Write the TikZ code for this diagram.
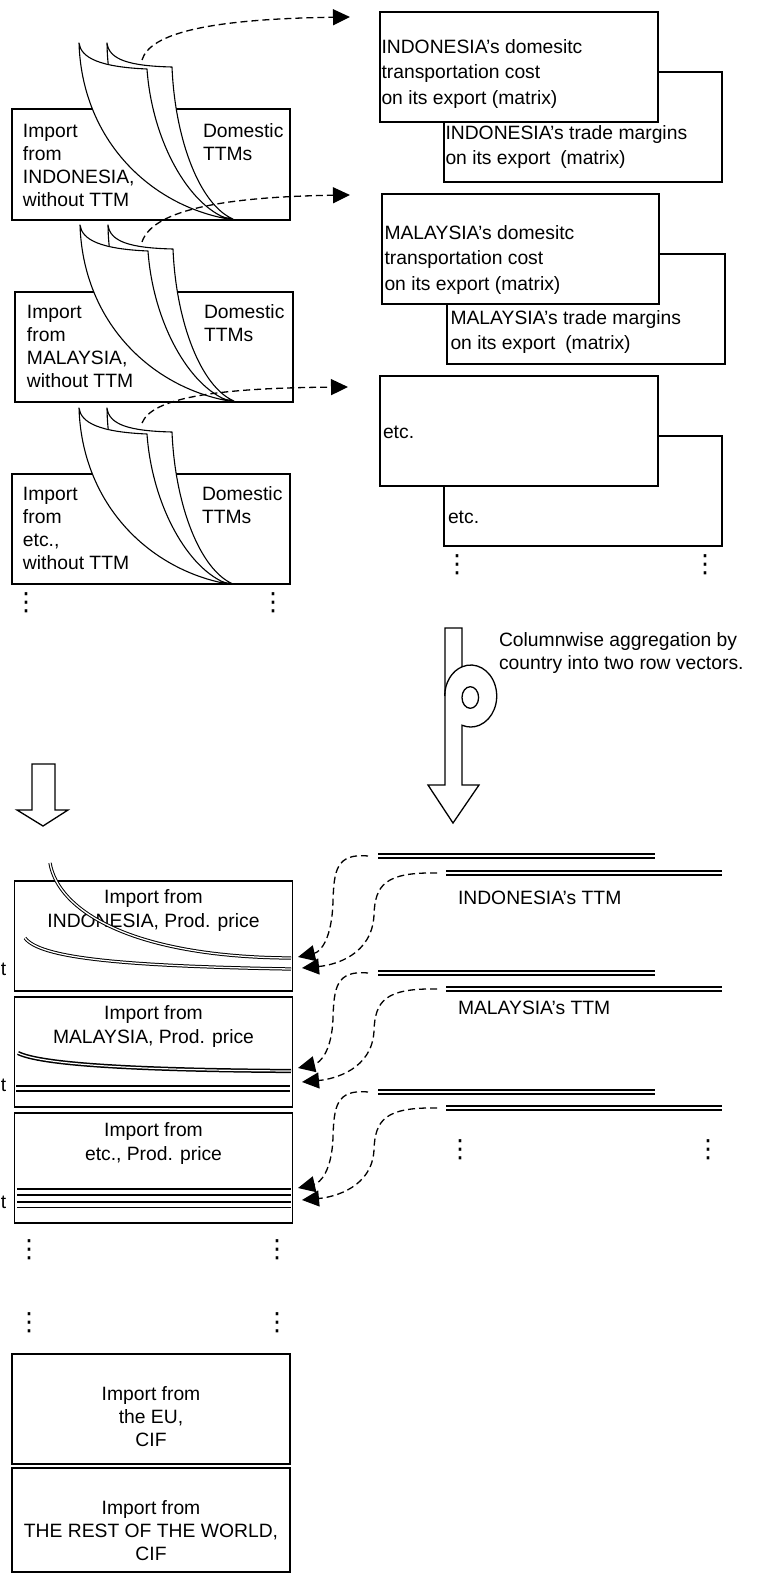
\documentclass[tikz,border=0pt]{standalone}
\usepackage{fontspec}
\setmainfont{Liberation Sans}
\newfontfamily\dvfont{DejaVu Sans}
\usetikzlibrary{arrows.meta}
\begin{document}
\begin{tikzpicture}[x=1pt,y=-1pt,
  frame/.style={draw, line width=1.4pt, fill=white, inner sep=0pt, outer sep=0pt, anchor=north west},
  sheet/.style={draw, fill=white, line width=1.1pt, line join=round},
  ltxt/.style={inner sep=0pt, outer sep=0pt, anchor=north west, align=left, font=\fontsize{19.3}{23}\selectfont},
  rtxt/.style={inner sep=0pt, outer sep=0pt, anchor=north west, align=left, font=\fontsize{19.3}{25.5}\selectfont},
  ctxt/.style={inner sep=0pt, outer sep=0pt, anchor=north, align=center, font=\fontsize{19.3}{23.5}\selectfont},
  vdot/.style={inner sep=0pt, outer sep=0pt, anchor=base, font=\dvfont\fontsize{25}{25}\selectfont},
  dasharrow/.style={line width=1.3pt, dash pattern=on 7pt off 4pt, -{Triangle[length=17pt,width=16pt]}},
  vec/.style={double, double distance=2.5pt, line width=1.6pt},
  thinvec/.style={double, double distance=1.3pt, line width=1pt},
  fatarrow/.style={draw, line width=1.3pt, fill=white, line join=miter},
]
\useasboundingbox (0,0) rectangle (758,1574);

% ---------- right side matrices ----------
\node[frame, minimum width=278pt, minimum height=110pt] (a2) at (444,72) {};
\node[frame, minimum width=278pt, minimum height=110pt] (a1) at (380,12) {};
\node[rtxt] (a1t) at (381.5,35.2) {\strut INDONESIA’s domesitc\\transportation cost\\on its export (matrix)};
\node[rtxt] (a2t) at (445.5,121.2) {\strut INDONESIA’s trade margins\\on its export\enspace(matrix)};

\node[frame, minimum width=278pt, minimum height=110pt] (b2) at (447,254) {};
\node[frame, minimum width=277pt, minimum height=110pt] (b1) at (382,194) {};
\node[rtxt] (b1t) at (384.5,221.2) {\strut MALAYSIA’s domesitc\\transportation cost\\on its export (matrix)};
\node[rtxt] (b2t) at (450.5,306.2) {\strut MALAYSIA’s trade margins\\on its export\enspace(matrix)};

\node[frame, minimum width=278pt, minimum height=110pt] (c2) at (444,436) {};
\node[frame, minimum width=278pt, minimum height=110pt] (c1) at (380,376) {};
\node[rtxt] (c1t) at (383,420.2) {\strut etc.};
\node[rtxt] (c2t) at (448,505.2) {\strut etc.};

\node[vdot] (cd1) at (457,572) {⋮};
\node[vdot] (cd2) at (705,572) {⋮};

% ---------- left blocks ----------
\node[frame, minimum width=278pt, minimum height=111pt] (l1) at (12,109) {};
\node[frame, minimum width=278pt, minimum height=110pt] (l2) at (15,292) {};
\node[frame, minimum width=278pt, minimum height=110pt] (l3) at (12,474) {};

\foreach \sx/\sy in {0/0, 1/182, 0/365}{
  \begin{scope}[shift={(\sx,\sy)}]
    \draw[sheet] (107,43) .. controls (109,60) and (130,66) .. (172,67)
      .. controls (175,140) and (200,205) .. (233,219)
      .. controls (170,210) and (108,140) .. (107,43) -- cycle;
    \draw[sheet] (79,43) .. controls (81,58) and (100,67) .. (147,69)
      .. controls (152,140) and (188,205) .. (228,219)
      .. controls (150,205) and (82,140) .. (79,43) -- cycle;
  \end{scope}
}

\node[ltxt] (l1t) at (23,120.9) {\strut Import\\from\\INDONESIA,\\without TTM};
\node[ltxt] (l1d) at (203,120.9) {\strut Domestic\\TTMs};
\node[ltxt] (l2t) at (27,301.9) {\strut Import\\from\\MALAYSIA,\\without TTM};
\node[ltxt] (l2d) at (204,301.9) {\strut Domestic\\TTMs};
\node[ltxt] (l3t) at (23,483.9) {\strut Import\\from\\etc.,\\without TTM};
\node[ltxt] (l3d) at (202,483.9) {\strut Domestic\\TTMs};

\node[vdot] (ld1) at (26,610) {⋮};
\node[vdot] (ld2) at (273,610) {⋮};

% top dashed arrows
\coordinate (s1) at (142,60);   \coordinate (e1) at (350,17);
\coordinate (s2) at (142,242);  \coordinate (e2) at (350,195);
\coordinate (s3) at (142,423);  \coordinate (e3) at (348,387);
\draw[dasharrow] (s1) .. controls (150,33) and (210,19) .. (e1);
\draw[dasharrow] (s2) .. controls (152,212) and (215,197) .. (e2);
\draw[dasharrow] (s3) .. controls (152,398) and (215,388) .. (e3);

% ---------- big arrow with loop ----------
\draw[fatarrow] (445,628) -- (462,628) -- (462,666.8)
  arc[start angle=250.4, end angle=469.6, x radius=26, y radius=31]
  -- (462,727) -- (462,785) -- (479,785) -- (453,823) -- (428,785) -- (445,785) -- cycle;
\draw[line width=1.3pt] (444.7,696) arc[start angle=180, end angle=250.4, x radius=26, y radius=31];
\draw[line width=1.3pt, fill=white] (470.3,697.5) ellipse [x radius=8.3, y radius=10.8];
\node[ltxt] (agg) at (499,629.9) {\strut Columnwise aggregation by\\country into two row vectors.};

% small left arrow
\draw[fatarrow] (32,764) -- (55,764) -- (55,810) -- (68,810) -- (43,826) -- (17,810) -- (32,810) -- cycle;

% ---------- bottom left boxes ----------
\node[frame, minimum width=278pt, minimum height=110pt] (d1) at (14.5,881) {};
\node[frame, minimum width=278pt, minimum height=110pt] (d2) at (14.5,997) {};
\node[frame, minimum width=278pt, minimum height=110pt] (d3) at (14.5,1113) {};
\node[ctxt] (d1t) at (153.5,887.5) {\strut Import from\\INDONESIA, Prod. price};
\node[ctxt] (d2t) at (153.5,1003.5) {\strut Import from\\MALAYSIA, Prod. price};
\node[ctxt] (d3t) at (153.5,1120.5) {\strut Import from\\etc., Prod. price};

\node[inner sep=0pt, anchor=base east, font=\fontsize{19.3}{23}\selectfont] (t1) at (6.5,975) {t};
\node[inner sep=0pt, anchor=base east, font=\fontsize{19.3}{23}\selectfont] (t2) at (6.5,1091) {t};
\node[inner sep=0pt, anchor=base east, font=\fontsize{19.3}{23}\selectfont] (t3) at (6.5,1208) {t};

% vectors inside boxes
\draw[thinvec] (50,863) .. controls (58,910) and (130,957) .. (291,958);
\draw[thinvec] (25,938) .. controls (40,958) and (120,966) .. (291,969);
\draw[double, double distance=1.2pt, line width=1.5pt] (18,1053) .. controls (40,1064) and (130,1070) .. (291,1071);
\draw[double, double distance=3.3pt, line width=1.8pt] (16,1088.5) -- (290,1088.5);
\draw[double, double distance=4pt, line width=1.8pt] (17,1192) -- (291,1192);
\draw[double, double distance=4pt, line width=1.8pt] (17,1204.5) -- (291,1204.5);

\node[vdot] (bd1) at (29,1257) {⋮};
\node[vdot] (bd2) at (277,1257) {⋮};
\node[vdot] (bd3) at (29,1330) {⋮};
\node[vdot] (bd4) at (277,1330) {⋮};

\node[frame, minimum width=278pt, minimum height=110pt] (e1b) at (12,1354) {};
\node[frame, minimum width=278pt, minimum height=104pt] (e2b) at (12,1468) {};
\node[ctxt, font=\fontsize{19.3}{23}\selectfont] (e1t) at (151,1383.9) {\strut Import from\\the EU,\\CIF};
\node[ctxt, font=\fontsize{19.3}{23}\selectfont] (e2t) at (151,1497.9) {\strut Import from\\THE REST OF THE WORLD,\\CIF};

% ---------- right row vectors ----------
\foreach \k/\u/\l in {1/856/873, 2/973/989, 3/1092/1108}{
  \coordinate (ru\k w) at (378,\u); \coordinate (ru\k e) at (655,\u);
  \coordinate (rl\k w) at (446,\l); \coordinate (rl\k e) at (722,\l);
  \draw[vec] (ru\k w) -- (ru\k e);
  \draw[vec] (rl\k w) -- (rl\k e);
}
\node[ltxt] (ttm1) at (458,887.9) {\strut INDONESIA’s TTM};
\node[ltxt] (ttm2) at (458,997.9) {\strut MALAYSIA’s TTM};
\node[vdot] (rd1) at (460,1157) {⋮};
\node[vdot] (rd2) at (708,1157) {⋮};

% lower dashed arrows
\foreach \k/\u/\l/\ta/\tb in {1/856/873/957/968, 2/973/989/1068/1082, 3/1092/1108/1188/1200}{
  \coordinate (us\k) at (368,\u);
  \coordinate (ls\k) at (437,\l);
  \coordinate (ut\k) at (298,\ta);
  \coordinate (lt\k) at (302,\tb);
  \draw[dasharrow] (us\k) .. controls (336,\u-3) and (334,\u+15) .. (333,\u+45)
     .. controls (332,\ta-17) and (320,\ta-5) .. (ut\k);
  \draw[dasharrow] (ls\k) .. controls (385,\l-1) and (375,\l+12) .. (374,\l+42)
     .. controls (372,\tb-13) and (335,\tb-3) .. (lt\k);
}
\end{tikzpicture}
\end{document}
